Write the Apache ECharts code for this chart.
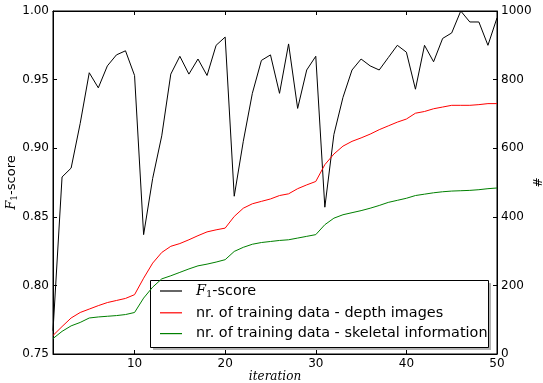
<!DOCTYPE html>
<html>
<head>
<meta charset="utf-8">
<script src="https://cdn.jsdelivr.net/npm/echarts@6/dist/echarts.min.js"></script>
<style>
  html, body { margin: 0; padding: 0; background: #fff; }
  #chart { width: 543px; height: 383px; }
</style>
</head>
<body>
<div id="chart"></div>
<script>
// Iterations of the training loop
const iterations = [1, 2, 3, 4, 5, 6, 7, 8, 9, 10, 11, 12, 13, 14, 15, 16, 17, 18, 19, 20,
  21, 22, 23, 24, 25, 26, 27, 28, 29, 30, 31, 32, 33, 34, 35, 36, 37, 38, 39, 40,
  41, 42, 43, 44, 45, 46, 47, 48, 49, 50];

// F1-score per iteration (left axis)
const f1Score = [0.767, 0.879, 0.8855, 0.918, 0.955, 0.944, 0.960, 0.968, 0.971, 0.953,
  0.837, 0.878, 0.909, 0.954, 0.967, 0.954, 0.965, 0.953, 0.975, 0.981,
  0.865, 0.905, 0.940, 0.964, 0.968, 0.940, 0.976, 0.929, 0.957, 0.967,
  0.857, 0.910, 0.937, 0.957, 0.965, 0.960, 0.957, 0.966, 0.975, 0.970,
  0.943, 0.975, 0.963, 0.980, 0.984, 1.000, 0.992, 0.992, 0.975, 0.995];

// Number of training samples (right axis)
const depthImages = [54, 80, 105, 121, 131, 141, 150, 156, 162, 173,
  221, 265, 296, 314, 322, 333, 345, 356, 362, 367,
  401, 425, 438, 445, 452, 462, 467, 482, 493, 503,
  552, 583, 606, 620, 630, 641, 654, 665, 676, 685,
  702, 707, 715, 720, 725, 725, 725, 727, 730, 730];

const skeletalInfo = [45, 66, 82, 92, 105, 108, 110, 112, 115, 121,
  163, 195, 219, 228, 238, 248, 257, 262, 268, 275,
  299, 311, 320, 325, 328, 331, 333, 338, 343, 348,
  377, 396, 406, 412, 418, 425, 433, 442, 448, 454,
  462, 466, 470, 473, 475, 476, 477, 479, 482, 484];

// Axis ticks
const xTicks = [10, 20, 30, 40, 50];
const leftTicks = [0.75, 0.80, 0.85, 0.90, 0.95, 1.00];
const rightTicks = [0, 200, 400, 600, 800, 1000];

const seriesNames = ['F1', 'nr. of training data - depth images', 'nr. of training data - skeletal information'];

const pairs = (vals) => iterations.map((it, i) => [it, vals[i]]);

const sans = 'DejaVu Sans';
const serif = 'DejaVu Serif';

// Rich styles for the F_1 label (axis name and legend sizes)
const makeRich = (size) => ({
  i: { fontFamily: serif, fontStyle: 'italic', fontSize: size, color: '#000' },
  s: { fontFamily: serif, fontSize: Math.round(size * 0.7), color: '#000', verticalAlign: 'bottom', padding: [Math.round(size * 0.45), 0, 0, 0] },
  t: { fontFamily: sans, fontSize: size, color: '#000' }
});

const chart = echarts.init(document.getElementById('chart'), null, { renderer: 'canvas' });

const tickCommon = { show: true, inside: true, length: 4, lineStyle: { color: '#000', width: 1 } };

const option = {
  animation: false,
  backgroundColor: '#fff',
  grid: { left: 53, right: 46, top: 11, bottom: 29, containLabel: false, outerBoundsMode: 'none',
    show: true, borderColor: '#000', borderWidth: 1, backgroundColor: 'transparent' },
  xAxis: [
    {
      type: 'value', min: 1, max: 50, position: 'bottom',
      name: 'iteration', nameLocation: 'middle', nameGap: 17, nameMoveOverlap: false,
      nameTextStyle: { fontFamily: serif, fontStyle: 'italic', fontSize: 12, color: '#000' },
      axisLine: { show: true, lineStyle: { color: '#000' } },
      axisTick: Object.assign({ customValues: xTicks }, tickCommon),
      axisLabel: { customValues: xTicks, color: '#000', fontFamily: sans, fontSize: 12, margin: 4 },
      splitLine: { show: false }
    },
    {
      type: 'value', min: 1, max: 50, position: 'top',
      axisLine: { show: true, lineStyle: { color: '#000' } },
      axisTick: Object.assign({ customValues: xTicks }, tickCommon),
      axisLabel: { show: false },
      splitLine: { show: false }
    }
  ],
  yAxis: [
    {
      type: 'value', min: 0.75, max: 1.0, interval: 0.05, position: 'left',
      name: '{i|F}{s|1}{t|-score}', nameLocation: 'middle', nameGap: 34, nameRotate: 90, nameMoveOverlap: false,
      nameTextStyle: { rich: makeRich(13) },
      axisLine: { show: true, lineStyle: { color: '#000' } },
      axisTick: Object.assign({ customValues: leftTicks }, tickCommon),
      axisLabel: { customValues: leftTicks, color: '#000', fontFamily: sans, fontSize: 12, margin: 4,
        formatter: (v) => v.toFixed(2) },
      splitLine: { show: false }
    },
    {
      type: 'value', min: 0, max: 1000, interval: 200, position: 'right',
      name: '#', nameLocation: 'middle', nameGap: 36, nameRotate: 90, nameMoveOverlap: false,
      nameTextStyle: { fontFamily: sans, fontSize: 12, color: '#000' },
      axisLine: { show: true, lineStyle: { color: '#000' } },
      axisTick: Object.assign({ customValues: rightTicks }, tickCommon),
      axisLabel: { customValues: rightTicks, color: '#000', fontFamily: sans, fontSize: 12, margin: 4,
        formatter: (v) => String(Math.round(v)) },
      splitLine: { show: false }
    }
  ],
  legend: {
    orient: 'vertical', left: 150, top: 280,
    padding: [4, 10, 5, 10],
    icon: 'rect', itemWidth: 22, itemHeight: 1.2, itemGap: 6.8,
    data: seriesNames,
    formatter: (name) => name === 'F1' ? '{i|F}{s|1}{t|-score}' : '{t|' + name + '}',
    textStyle: { padding: [0, 0, 0, 9], rich: makeRich(14.4) },
    z: 5
  },
  graphic: [
    { type: 'rect', z: 3, shape: { x: 153, y: 283, width: 338, height: 67 }, style: { fill: '#7f7f7f', opacity: 0.6 } },
    { type: 'rect', z: 3, shape: { x: 150.5, y: 280.5, width: 338, height: 67 }, style: { fill: '#fff', stroke: '#000', lineWidth: 1 } }
  ],
  series: [
    { name: seriesNames[0], type: 'line', xAxisIndex: 0, yAxisIndex: 0, data: pairs(f1Score),
      symbol: 'none', lineStyle: { color: '#000', width: 1 }, itemStyle: { color: '#000' } },
    { name: seriesNames[1], type: 'line', xAxisIndex: 0, yAxisIndex: 1, data: pairs(depthImages),
      symbol: 'none', lineStyle: { color: '#ff0000', width: 1 }, itemStyle: { color: '#ff0000' } },
    { name: seriesNames[2], type: 'line', xAxisIndex: 0, yAxisIndex: 1, data: pairs(skeletalInfo),
      symbol: 'none', lineStyle: { color: '#008000', width: 1 }, itemStyle: { color: '#008000' } }
  ]
};

chart.setOption(option);
</script>
</body>
</html>
